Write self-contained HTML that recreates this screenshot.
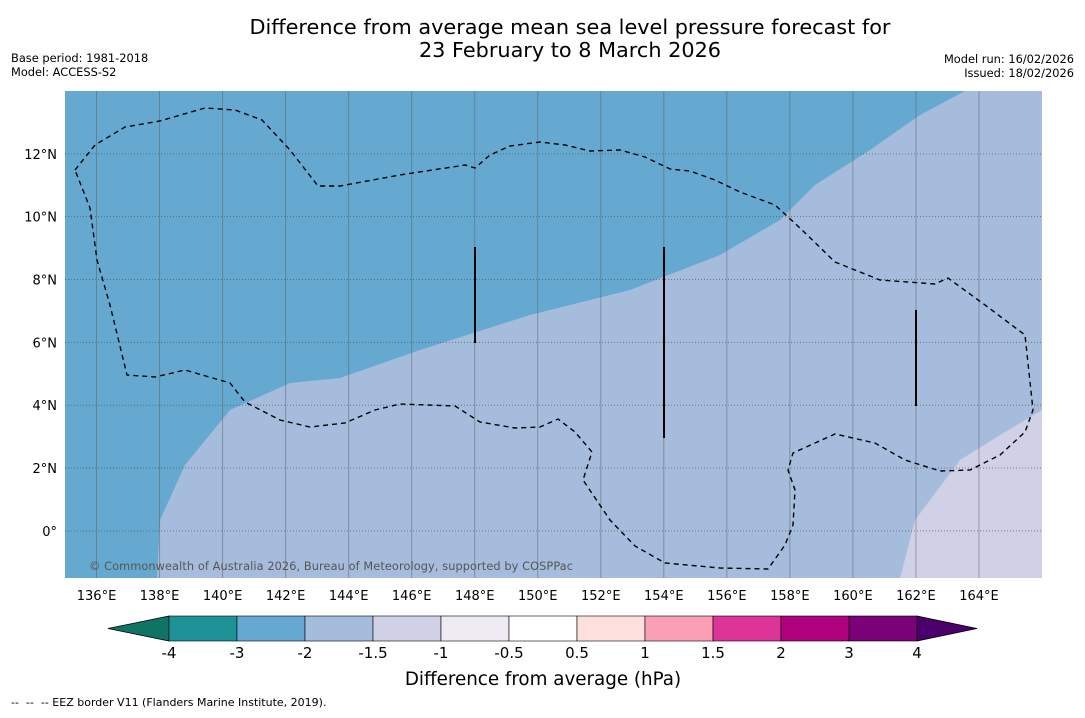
<!DOCTYPE html>
<html><head><meta charset="utf-8">
<style>
body{margin:0;background:#fff;width:1085px;height:713px;overflow:hidden;font-family:"Liberation Sans","DejaVu Sans",sans-serif}
svg text{font-family:"DejaVu Sans","Liberation Sans",sans-serif}
</style></head>
<body>
<svg id="c" width="1085" height="713" xmlns="http://www.w3.org/2000/svg">
<text x="570" y="34" font-size="20.8" text-anchor="middle">Difference from average mean sea level pressure forecast for</text>
<text x="570" y="57" font-size="20.8" text-anchor="middle">23 February to 8 March 2026</text>
<text x="11" y="62" font-size="11.4">Base period: 1981-2018</text>
<text x="11" y="76" font-size="11.4">Model: ACCESS-S2</text>
<text x="1074" y="63" font-size="11.4" text-anchor="end">Model run: 16/02/2026</text>
<text x="1074" y="77" font-size="11.4" text-anchor="end">Issued: 18/02/2026</text>
<g id="map">
<rect x="65" y="91" width="977" height="487" fill="#a6bcdc"/>
<polygon points="65,91 965,91 920,115 870,150 815,185 780,220 720,255 630,290 530,315 420,350 340,378 290,383 230,410 185,465 160,520 157,578 65,578" fill="#66a9d0"/>
<polygon points="900,578 915,520 960,460 1000,435 1042,410 1042,578" fill="#d0d0e6"/>
<g id="grid"></g>
<polyline fill="none" stroke="#000" stroke-width="1.4" stroke-dasharray="5,4" points="75,170 95,145 125,127 160,121 205,108 235,110 262,120 290,150 318,186 340,186 400,175 465,165 475,168 490,155 510,146 540,142 565,145 590,151 620,150 645,157 670,169 690,171 715,180 740,192 775,205 800,228 835,262 880,280 935,284 948,278 985,305 1025,335 1033,410 1025,432 1000,455 970,470 940,471 905,460 875,443 835,434 815,443 793,453 788,470 795,490 793,525 785,545 768,569 720,568 665,563 635,546 610,520 583,480 592,452 575,432 558,419 540,427 515,428 480,422 455,406 400,404 375,410 345,423 310,427 280,420 245,402 230,383 185,370 155,377 127,375 110,305 97,260 90,208 75,170"/>
<line x1="475" y1="247" x2="475" y2="343" stroke="#000" stroke-width="2"/>
<line x1="664" y1="247" x2="664" y2="438" stroke="#000" stroke-width="2"/>
<line x1="916" y1="310" x2="916" y2="406" stroke="#000" stroke-width="2"/>
<text x="89" y="570" font-size="11.3" fill="#555" textLength="484">© Commonwealth of Australia 2026, Bureau of Meteorology, supported by COSPPac</text>
</g>
<g id="axes"></g>
<g id="cbar"></g>
<text x="543" y="685" font-size="18.3" text-anchor="middle">Difference from average (hPa)</text>
<text x="11" y="706" font-size="11" xml:space="preserve">--  --  -- EEZ border V11 (Flanders Marine Institute, 2019).</text>
</svg>
<script>
const lonTicks=[136,138,140,142,144,146,148,150,152,154,156,158,160,162,164];
const latTicks=[0,2,4,6,8,10,12];
const cbBounds=["-4","-3","-2","-1.5","-1","-0.5","0.5","1","1.5","2","3","4"];
const cbColors=["#1e9196","#66a9d0","#a6bcdc","#d0d0e6","#efebf3","#ffffff","#fde0dd","#fa9fb5","#dd3497","#ae017e","#7a0177"];
const cbExt=["#0f7466","#49006a"];
const NS="http://www.w3.org/2000/svg";
const lonX=l=>65+(l-135)*(977/31);
const latY=l=>578-(l+1.5)*(487/15.5);
function mk(t,a,p){const e=document.createElementNS(NS,t);for(const k in a)e.setAttribute(k,a[k]);p.appendChild(e);return e;}
const grid=document.getElementById('grid'),axes=document.getElementById('axes'),cb=document.getElementById('cbar');
lonTicks.forEach(l=>{const x=lonX(l);
 const g=mk('line',{x1:x,y1:91,x2:x,y2:578,stroke:'#555','stroke-opacity':0.45,'stroke-width':1},grid);
 
 
 const t=mk('text',{x:x,y:600,'font-size':13,'text-anchor':'middle'},axes);t.textContent=l+'°E';
 
 });
latTicks.forEach(l=>{const y=latY(l);
 const g=mk('line',{x1:65,y1:y,x2:1042,y2:y,stroke:'#444','stroke-opacity':0.6,'stroke-width':1,'stroke-dasharray':'1,2'},grid);
 
 
 const t=mk('text',{x:57,y:y+5,'font-size':13,'text-anchor':'end'},axes);t.textContent=l===0?'0°':l+'°N';
 
 });
const cx0=169,cw=68,cy=616,ch=25;
const le=mk('polygon',{points:`108,${cy+ch/2} ${cx0},${cy} ${cx0},${cy+ch}`,fill:cbExt[0],stroke:'#000','stroke-width':0.8},cb);


const n=cbColors.length,xe=cx0+n*cw;
const re=mk('polygon',{points:`${xe},${cy} ${xe+60},${cy+ch/2} ${xe},${cy+ch}`,fill:cbExt[1],stroke:'#000','stroke-width':0.8},cb);


cbColors.forEach((c,i)=>{const r=mk('rect',{x:cx0+i*cw,y:cy,width:cw,height:ch,fill:c,stroke:'#000','stroke-width':0.6},cb);
 
 });
cbBounds.forEach((b,i)=>{const t=mk('text',{x:cx0+i*cw,y:658,'font-size':15,'text-anchor':'middle'},cb);t.textContent=b;
 
 });
</script>
</body></html>
